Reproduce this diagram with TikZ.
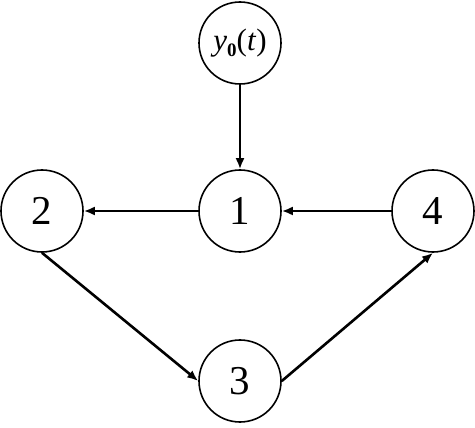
\documentclass[tikz,border=0pt]{standalone}
\usepackage{fontspec}
\setmainfont{Liberation Serif}
\usetikzlibrary{arrows.meta}
\begin{document}
\begin{tikzpicture}[x=1pt,y=-1pt,
  vnode/.style={circle,draw,line width=1.6pt,minimum size=82pt,inner sep=0pt,font=\fontsize{41}{48}\selectfont},
  edge/.style={line width=2.6pt,-{Latex[length=11pt,width=9pt]}}]
\useasboundingbox (0,0) rectangle (475,428);
\node[vnode] (y) at (240,43) {\fontsize{31}{36}\selectfont\textit{y}\raisebox{-0.2em}{\fontsize{19}{22}\selectfont\bfseries 0}(\textit{t})};
\node[vnode] (n1) at (240,211) {1};
\node[vnode] (n2) at (42,211) {2};
\node[vnode] (n4) at (433,211) {4};
\node[vnode] (n3) at (240,381) {3};
\draw[edge] (y) -- (n1);
\draw[edge] (n1) -- (n2);
\draw[edge] (n4) -- (n1);
\draw[edge] (n2.south) -- (n3.west);
\draw[edge] (n3.east) -- (n4.south);
\end{tikzpicture}
\end{document}
